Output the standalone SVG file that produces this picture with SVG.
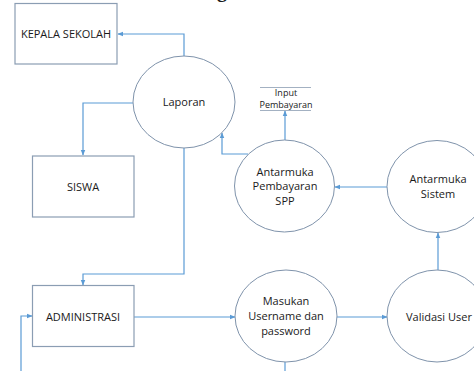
<svg xmlns="http://www.w3.org/2000/svg" width="474" height="371" viewBox="0 0 474 371">
  <style>
    .box { fill: #ffffff; stroke: #8b9db3; stroke-width: 1.2; }
    .proc { fill: #ffffff; stroke: #7f93ab; stroke-width: 1; }
    .lbl { font-family: "Open Sans", "Noto Sans", sans-serif; font-size: 11px; fill: #1a1a1a; text-anchor: middle; }
    .small { font-family: "Open Sans", "Noto Sans", sans-serif; font-size: 9px; fill: #1a1a1a; text-anchor: middle; }
    .flow { fill: none; stroke: #5b9bd5; stroke-width: 1.2; }
    .store { stroke: #8b9db3; stroke-width: 0.8; }
  </style>
  <defs>
    <marker id="ah" viewBox="0 0 10 10" refX="9" refY="5" markerWidth="6" markerHeight="6" orient="auto" markerUnits="userSpaceOnUse">
      <path d="M0,1 L10,5 L0,9 Z" fill="#5b9bd5"/>
    </marker>
  </defs>
  <rect width="474" height="371" fill="#ffffff"/>

  <!-- title, mostly above the top edge -->
  <text x="222" y="-3" font-family="Liberation Serif, serif" font-weight="bold" font-size="20" fill="#1a1a1a" text-anchor="middle">g</text>

  <g id="connectors">
    <path class="flow" d="M184,56 V34 H118" marker-end="url(#ah)"/>
    <path class="flow" d="M133,103 H83 V155" marker-end="url(#ah)"/>
    <path class="flow" d="M184,148 V274 H83 V285" marker-end="url(#ah)"/>
    <path class="flow" d="M248,154 H222 V133" marker-end="url(#ah)"/>
    <path class="flow" d="M285,140 V111" marker-end="url(#ah)"/>
    <path class="flow" d="M387,187 H335" marker-end="url(#ah)"/>
    <path class="flow" d="M438,270 V233" marker-end="url(#ah)"/>
    <path class="flow" d="M134,317 H235" marker-end="url(#ah)"/>
    <path class="flow" d="M337,317 H387" marker-end="url(#ah)"/>
    <path class="flow" d="M285,362 V372"/>
    <path class="flow" d="M21,372 V316 H32" marker-end="url(#ah)"/>
  </g>

  <g id="kepala-sekolah">
    <rect class="box" x="15" y="3.5" width="102" height="60.5"/>
    <text class="lbl" x="66" y="38">KEPALA SEKOLAH</text>
  </g>

  <g id="siswa">
    <rect class="box" x="32.5" y="156" width="101.5" height="61"/>
    <text class="lbl" x="83" y="191">SISWA</text>
  </g>

  <g id="administrasi">
    <rect class="box" x="32.5" y="285.5" width="101.5" height="61"/>
    <text class="lbl" x="83" y="321">ADMINISTRASI</text>
  </g>

  <g id="laporan">
    <ellipse class="proc" cx="184" cy="102" rx="51" ry="46"/>
    <text class="lbl" x="184" y="106">Laporan</text>
  </g>

  <g id="input-pembayaran">
    <line class="store" x1="260" y1="87.5" x2="311" y2="87.5"/>
    <line class="store" x1="260" y1="110.5" x2="311" y2="110.5"/>
    <text class="small" x="286" y="96">Input</text>
    <text class="small" x="286" y="108">Pembayaran</text>
  </g>

  <g id="antarmuka-pembayaran">
    <ellipse class="proc" cx="284.5" cy="186" rx="50" ry="46"/>
    <text class="lbl" x="285" y="176">Antarmuka</text>
    <text class="lbl" x="285" y="190">Pembayaran</text>
    <text class="lbl" x="285" y="205">SPP</text>
  </g>

  <g id="antarmuka-sistem">
    <ellipse class="proc" cx="437" cy="186.5" rx="50" ry="46"/>
    <text class="lbl" x="438" y="183">Antarmuka</text>
    <text class="lbl" x="438" y="198">Sistem</text>
  </g>

  <g id="masukan">
    <ellipse class="proc" cx="286" cy="316" rx="51" ry="46"/>
    <text class="lbl" x="286" y="305">Masukan</text>
    <text class="lbl" x="286" y="320">Username dan</text>
    <text class="lbl" x="286" y="335">password</text>
  </g>

  <g id="validasi-user">
    <ellipse class="proc" cx="437" cy="316" rx="50" ry="46"/>
    <text class="lbl" x="439" y="321">Validasi User</text>
  </g>
</svg>
